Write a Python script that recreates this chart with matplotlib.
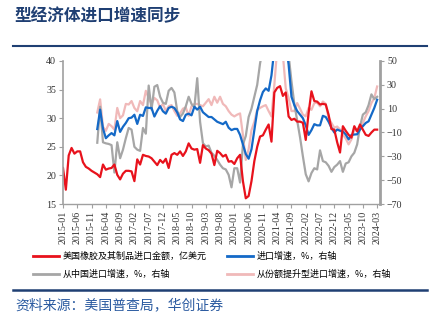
import numpy as np
import pandas as pd
import matplotlib
matplotlib.use("Agg")
import matplotlib.pyplot as plt
from matplotlib.lines import Line2D

# monthly series, 2015-01 .. 2024-03
months = pd.date_range("2015-01-01", "2024-03-01", freq="MS")
tick_labels = [d.strftime("%Y-%m") for d in months[::5]]

# 美国橡胶及其制品进口金额, 亿美元 (left axis)
rubber_imports = [
    21.3, 17.5, 23.5, 24.8, 23.8, 24.2, 24.2, 22.3, 21.5, 21.2, 20.8, 20.5,
    20.2, 19.7, 21.9, 21.0, 21.2, 21.3, 21.9, 20.1, 19.3, 20.3, 20.8, 20.8,
    20.7, 19.0, 22.8, 21.9, 23.6, 23.4, 23.3, 23.0, 22.4, 21.8, 22.7, 22.2,
    22.9, 21.3, 23.6, 23.9, 23.6, 24.2, 23.4, 24.2, 25.6, 24.7, 24.5, 24.6,
    22.2, 25.3, 24.7, 24.4, 23.8, 21.8, 24.3, 23.9, 23.3, 23.6, 22.4, 22.5,
    22.0, 23.0, 23.6, 19.0, 16.0, 16.4, 19.0, 22.5, 25.0, 26.8, 27.0, 28.0,
    28.9, 25.9, 34.5, 35.3, 35.6, 33.9, 34.5, 30.3, 29.7, 29.9, 29.4, 29.4,
    29.2, 26.2, 30.9, 34.7, 33.0, 32.9, 32.4, 32.5, 32.4, 30.6, 28.1, 28.0,
    25.8, 24.0, 28.6, 27.8, 27.1, 26.6, 28.6, 27.7, 28.9, 28.0, 27.1, 26.9,
    27.5, 28.0, 28.0,
]

# growth series (right axis, %), start 2016-01
pad = [np.nan] * 12
total_growth = pad + [
    -7.1, 9.2, -6.6, -14.8, -12.4, -10.5, -12.4, -0.4, -9.5, -5.2, -2.0, 2.0,
    2.5, 4.9, -2.8, 4.9, 3.9, 11.1, 10.6, 10.6, 3.4, 8.2, 12.1, 7.8,
    5.8, 10.6, 11.6, 10.6, 6.8, 1.0, -0.4, 4.9, 5.8, 4.4, 11.6, 9.2,
    11.6, 7.0, 5.0, 3.0, 3.0, 1.0, -1.0, -2.0, -3.0, -1.0, -6.0, -8.0,
    -7.0, -7.0, -12.0, -20.0, -28.0, -32.0, -24.0, -8.0, 8.0, 17.0, 24.0, 27.0,
    25.0, 38.0, 60.0, 75.0, 85.0, 80.0, 65.0, 47.0, 20.0, 13.0, 8.0, 5.0,
    2.0, -4.0, -12.0, -8.0, -3.0, -4.0, -4.0, 4.0, 3.0, -1.0, -6.0, -10.0,
    -7.5, -8.5, -9.0, -11.7, -15.8, -12.0, -11.7, -11.5, -7.5, -4.7, -2.0, -0.6,
    5.0, 10.6, 17.5,
]
china_growth = pad + [
    -18.6, 11.6, -18.2, -19.1, -19.6, -20.6, -43.6, -18.2, -31.6, -24.4, -14.8, -6.2,
    -7.6, -22.0, -24.4, -25.4, -6.2, -11.0, 29.4, 9.2, 28.4, 29.8, 20.0, 15.0,
    14.0, 25.0, 27.4, 23.6, 8.0, 3.0, 6.0, 12.0, 20.0, 14.0, 11.0, 35.6,
    -1.0, -19.0, -21.7, -21.0, -27.0, -29.5, -33.0, -37.0, -40.0, -41.0, -45.5, -56.0,
    -40.0, -40.0, -52.0, -20.0, -13.0, 3.0, 10.0, 20.0, 30.0, 48.0, 60.0, 75.0,
    90.0, 100.0, 110.0, 110.0, 100.0, 90.0, 75.0, 55.0, 33.0, 14.0, 0.0, -14.0,
    -30.0, -45.0, -51.0, -44.0, -40.0, -41.0, -25.0, -34.0, -35.0, -38.0, -43.0, -39.0,
    -37.0, -34.0, -43.0, -36.0, -35.0, -30.0, -27.0, -20.0, -5.0, 5.0, 7.0, 13.0,
    22.0, 18.0, 20.0,
]
share_up_growth = pad + [
    6.8, 17.8, -5.2, -8.6, -2.8, -4.7, -7.6, 10.6, 2.0, 4.4, 14.0, 13.5,
    16.4, 10.6, 7.8, 16.4, 13.0, 25.0, 18.8, 14.0, 19.0, 17.0, 11.0, 14.0,
    8.0, 12.0, 13.0, 8.0, 4.0, 6.0, 10.0, 11.0, 4.0, 12.0, 14.0, 14.0,
    13.0, 12.0, 15.0, 18.0, 13.0, 20.0, 15.0, 20.0, 14.0, 12.0, 8.0, 5.0,
    3.5, 5.0, 6.0, -12.0, -33.0, -24.0, -8.0, -1.0, 9.0, 10.6, 12.0, 13.0,
    8.0, 3.5, 30.0, 60.0, 70.0, 55.0, 27.0, 19.0, 8.0, 8.0, 14.7, 10.0,
    5.0, 3.5, 10.6, 9.0, 14.7, 15.0, 12.0, 16.0, 14.0, 2.2, -2.0, -6.0,
    -5.0, -7.5, -11.7, -15.0, -20.0, -15.8, -7.5, -8.9, -7.5, -2.0, 3.6, 8.0,
    14.7, 18.9, 28.6,
]

legend_labels = ["美国橡胶及其制品进口金额，亿美元", "从中国进口增速，%，右轴",
                 "进口增速，%，右轴", "从份额提升型进口增速，%，右轴"]

RED = "#E8121C"
BLUE = "#1469C7"
GRAY = "#A6A6A6"
PINK = "#F0B9B9"
NAVY = "#1F3F73"
CJK = ["Noto Sans CJK SC", "DejaVu Sans"]
SERIF = "Liberation Serif"

W, H = 433, 322
fig = plt.figure(figsize=(W / 100, H / 100), dpi=100)

x = np.arange(len(months))
ax = fig.add_axes([63 / W, 1 - 204 / H, (380 - 63) / W, (204 - 61) / H])
ax2 = ax.twinx()
ax.set_zorder(ax2.get_zorder() + 1)
ax.patch.set_visible(False)

ax2.plot(x, share_up_growth, color=PINK, lw=1.6)
ax2.plot(x, china_growth, color=GRAY, lw=1.6)
ax2.plot(x, total_growth, color=BLUE, lw=1.6)
ax.plot(x, rubber_imports, color=RED, lw=1.6)

ax.set_xlim(0, len(months))
ax.set_ylim(15, 40)
ax.set_yticks(np.arange(15, 41, 5))
ax2.set_ylim(-70, 50)
ax2.set_yticks(np.arange(-70, 51, 20))
ax.set_xticks(x[::5])
ax.set_xticklabels(tick_labels, rotation=90)

for a in (ax, ax2):
    for s in a.spines.values():
        s.set_color("#A0A0A0")
    a.spines["top"].set_visible(False)
    a.tick_params(colors="#A0A0A0", labelcolor="#333333", length=3, width=0.8,
                  labelsize=7.2, pad=2)
    for lab in a.get_xticklabels() + a.get_yticklabels():
        lab.set_family(SERIF)
ax.spines["right"].set_visible(False)
ax2.spines["left"].set_visible(False)
ax2.spines["bottom"].set_visible(False)
ax2.spines["right"].set_linewidth(2)
ax.spines["left"].set_linewidth(1.2)
ax.spines["bottom"].set_linewidth(1.0)

handles = [Line2D([], [], color=c, lw=2) for c in (RED, GRAY, BLUE, PINK)]
fig.legend(handles, legend_labels, loc="upper left", bbox_to_anchor=(33 / W, 1 - 252 / H),
           ncol=2, frameon=False, prop={"family": CJK, "size": 6.5},
           handlelength=2.9, handletextpad=0.35, columnspacing=2.3, labelspacing=0.95,
           borderpad=0, borderaxespad=0)

fig.text(14 / W, 1 - 16 / H, "型经济体进口增速同步", fontsize=12, weight="bold",
         color=NAVY, va="center", ha="left", family=CJK)
fig.add_artist(Line2D([13 / W, 427 / W], [1 - 46 / H] * 2, color=NAVY, lw=1.5))
fig.add_artist(Line2D([13 / W, 427 / W], [1 - 290 / H] * 2, color=NAVY, lw=1.8))
fig.text(15 / W, 1 - 305 / H, "资料来源：美国普查局，华创证券", fontsize=10,
         color="#2A5AA0", va="center", ha="left", family=CJK)

fig.savefig("out.png", dpi=100)
